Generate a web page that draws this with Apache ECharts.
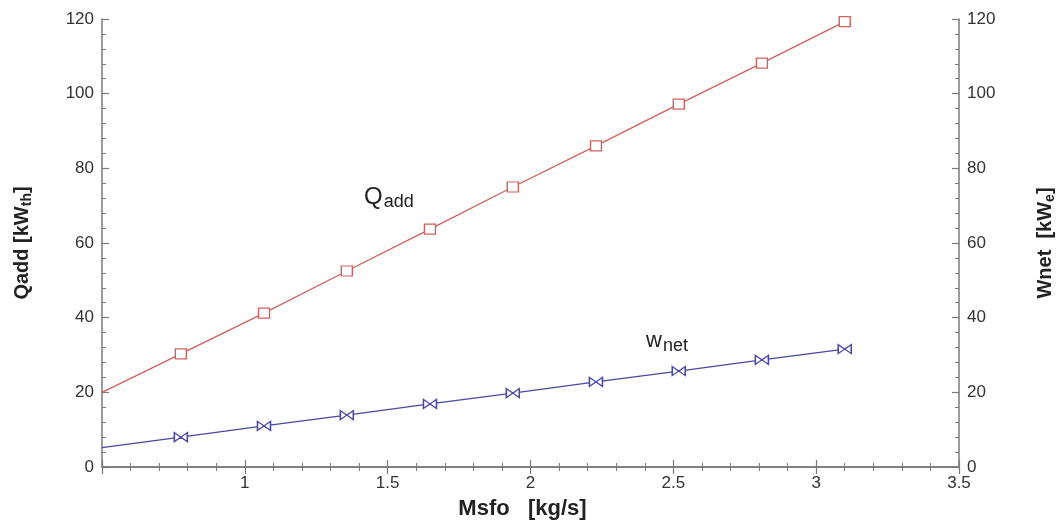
<!DOCTYPE html>
<html lang="en">
<head>
    <meta charset="UTF-8">
    <title>Qadd / Wnet vs Msfo</title>
    <script type="text/javascript" src="https://cdn.jsdelivr.net/npm/echarts@6/dist/echarts.min.js"></script>
    <style>
        html, body { margin: 0; padding: 0; background: #fff; }
    </style>
</head>
<body>
<div id="main" style="width: 1062px;height:523px;"></div>
<script type="text/javascript">
    // Msfo [kg/s]
    var msfo = [0.5, 0.776, 1.067, 1.357, 1.648, 1.938, 2.229, 2.519, 2.81, 3.1];
    // Qadd [kWth]
    var qadd = [20, 30.3, 41.2, 52.5, 63.7, 75, 86, 97.2, 108.2, 119.3];
    // Wnet [kWe]
    var wnet = [5.2, 8.0, 11.0, 13.9, 16.9, 19.8, 22.8, 25.7, 28.7, 31.6];

    var font = 'Arial, "Liberation Sans", sans-serif';
    var axisColor = '#7a7a7a';
    var qColor = '#d0605c';
    var wColor = '#4848a6';

    // first point only starts the line, no marker on it
    function pairs(ys) {
        return msfo.map(function (x, i) {
            var item = { value: [x, ys[i]] };
            if (i === 0) item.symbol = 'none';
            return item;
        });
    }

    var subRich = {
        s: { fontSize: 14, fontWeight: 'bold', fontFamily: font, color: '#222', verticalAlign: 'bottom', padding: [9, 0, 0, 0] }
    };

    // ticks drawn towards the plot
    var tick = { show: true, inside: false, length: -7, lineStyle: { color: axisColor, width: 1.2 } };
    var minor = { show: true, splitNumber: 5, length: -4, lineStyle: { color: axisColor, width: 1 } };

    var yBase = {
        type: 'value',
        min: 0,
        max: 120,
        interval: 20,
        nameLocation: 'middle',
        nameRotate: 90,
        axisLine: { show: true, lineStyle: { color: axisColor, width: 1.5 } },
        axisTick: tick,
        minorTick: minor,
        splitLine: { show: false },
        axisLabel: { color: '#333', fontSize: 17, fontFamily: font, margin: 8 }
    };

    var option = {
        animation: false,
        backgroundColor: '#fff',
        grid: { left: 102, right: 103, top: 19, bottom: 56, containLabel: false, outerBoundsMode: 'none' },
        xAxis: [
            {
                type: 'value',
                min: 0.5,
                max: 3.5,
                interval: 0.5,
                position: 'bottom',
                name: 'Msfo   [kg/s]',
                nameLocation: 'middle',
                nameGap: 31,
                nameTextStyle: { color: '#222', fontSize: 22, fontWeight: 'bold', fontFamily: font, padding: [0, 16, 0, 0] },
                axisLine: { show: true, lineStyle: { color: axisColor, width: 1.5 } },
                axisTick: tick,
                minorTick: minor,
                splitLine: { show: false },
                axisLabel: {
                    color: '#333', fontSize: 17, fontFamily: font, margin: 8,
                    formatter: function (v) { return v === 0.5 ? '' : String(v); }
                }
            },
            {
                type: 'value',
                min: 0.5,
                max: 3.5,
                interval: 0.5,
                position: 'top',
                axisLine: { show: true, lineStyle: { color: axisColor, width: 1.5 } },
                axisTick: tick,
                minorTick: minor,
                splitLine: { show: false },
                axisLabel: { show: false }
            }
        ],
        yAxis: [
            Object.assign({}, yBase, {
                position: 'left',
                name: 'Qadd [kW{s|th}]',
                nameGap: 68,
                nameTextStyle: { color: '#222', fontSize: 20, fontWeight: 'bold', fontFamily: font, rich: subRich }
            }),
            Object.assign({}, yBase, {
                position: 'right',
                name: 'Wnet  [kW{s|e}]',
                nameGap: 75,
                nameTextStyle: { color: '#222', fontSize: 20, fontWeight: 'bold', fontFamily: font, rich: subRich }
            })
        ],
        graphic: [
            {
                type: 'text',
                left: 364,
                top: 185,
                style: {
                    text: '{b|Q}{s|add}',
                    rich: {
                        b: { fontSize: 24, fontFamily: font, fill: '#222', verticalAlign: 'bottom' },
                        s: { fontSize: 18, fontFamily: font, fill: '#222', verticalAlign: 'bottom', padding: [0, 0, -2, 1] }
                    }
                }
            },
            {
                type: 'text',
                left: 646,
                top: 330,
                style: {
                    text: '{b|w}{s|net}',
                    rich: {
                        b: { fontSize: 22, fontFamily: font, fill: '#222', verticalAlign: 'bottom' },
                        s: { fontSize: 18, fontFamily: font, fill: '#222', verticalAlign: 'bottom', padding: [0, 0, -3, 1] }
                    }
                }
            }
        ],
        series: [
            {
                name: 'Qadd',
                type: 'line',
                xAxisIndex: 0,
                yAxisIndex: 0,
                data: pairs(qadd),
                symbol: 'rect',
                symbolSize: [11, 10],
                showAllSymbol: true,
                lineStyle: { color: qColor, width: 1.3 },
                itemStyle: { color: '#fff', borderColor: qColor, borderWidth: 1.3 }
            },
            {
                name: 'Wnet',
                type: 'line',
                xAxisIndex: 0,
                yAxisIndex: 1,
                data: pairs(wnet),
                symbol: 'path://M0,0L6,4L0,8ZM12,0L6,4L12,8Z',
                symbolSize: [13, 9],
                symbolKeepAspect: false,
                showAllSymbol: true,
                lineStyle: { color: wColor, width: 1.3 },
                itemStyle: { color: '#fff', borderColor: wColor, borderWidth: 1.3 }
            }
        ]
    };

    var myChart = echarts.init(document.getElementById('main'));
    myChart.setOption(option);
</script>

</body>
</html>
